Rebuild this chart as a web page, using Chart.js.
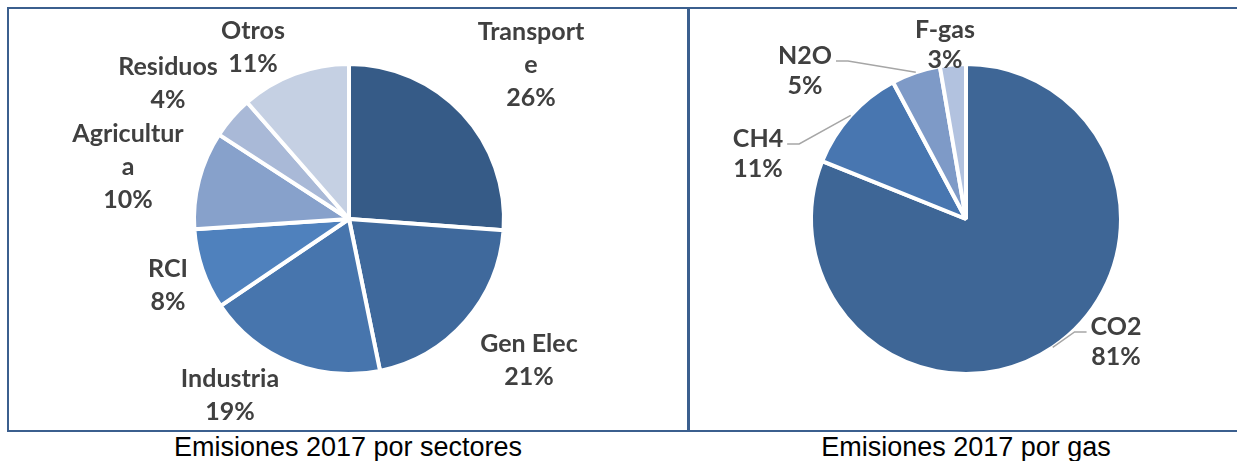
<!DOCTYPE html>
<html>
<head>
<meta charset="utf-8">
<script src="https://cdn.jsdelivr.net/npm/chart.js@4/dist/chart.umd.min.js"></script>
<style>
  html, body { margin: 0; padding: 0; background: #fff; }
  body { width: 1237px; height: 461px; position: relative; overflow: hidden; }
  .box { position: absolute; border: 2px solid #3B5F8E; box-sizing: border-box; }
  .wrap { position: absolute; }
  .caption { position: absolute; top: 432px; font-family: "Liberation Sans", Arial, sans-serif;
             font-size: 27px; color: #000; text-align: center; line-height: 30px; }
</style>
</head>
<body>
<div class="box" style="left:7px;top:7px;width:682px;height:425px;"></div>
<div class="box" style="left:688px;top:7px;width:580px;height:425px;"></div>
<div class="wrap" style="left:8px;top:8px;width:680px;height:422px;"><canvas id="sectores"></canvas></div>
<div class="wrap" style="left:689px;top:8px;width:548px;height:422px;"><canvas id="gases"></canvas></div>
<div class="caption" style="left:98px;width:500px;">Emisiones 2017 por sectores</div>
<div class="caption" style="left:716px;width:500px;">Emisiones 2017 por gas</div>
<script>
// emissions share by sector (%)
var sectorNames = ["Transporte", "Gen Elec", "Industria", "RCI", "Agricultura", "Residuos", "Otros"];
var sectorValues = [26.1, 20.6, 18.7, 8.4, 10.2, 4.4, 11.4];
// Excel wrapped two of the names
var sectorLines = [["Transport", "e"], ["Gen Elec"], ["Industria"], ["RCI"], ["Agricultur", "a"], ["Residuos"], ["Otros"]];

// emissions share by gas (%)
var gasNames = ["CO2", "CH4", "N2O", "F-gas"];
var gasValues = [81.1, 11.1, 5.1, 2.7];

var sectorColors = ["#365B87", "#3F699C", "#4775AD", "#4F81BD", "#87A1CB", "#A9B9D7", "#C5D0E3"];
var gasColors = ["#3E6696", "#4876B0", "#7E9AC7", "#B2C2DF"];

var labelFont = "bold 25px Lato";

var sliceLabels = {
  id: 'sliceLabels',
  afterDraw: function(chart, args, opts) {
    var ctx = chart.ctx;
    var meta = chart.getDatasetMeta(0);
    var values = chart.data.datasets[0].data;
    var total = values.reduce(function(a, b) { return a + b; }, 0);
    ctx.save();
    ctx.font = labelFont;
    ctx.fillStyle = "#404040";
    ctx.textAlign = "center";
    ctx.textBaseline = "middle";
    meta.data.forEach(function(arc, i) {
      var pct = Math.round(values[i] / total * 100) + "%";
      var lines = opts.lines[i].concat([pct]);
      var off = opts.offsets[i];
      var lx = arc.x + off[0], ly = arc.y + off[1];
      var lh = opts.lineHeight;
      var y0 = ly - (lines.length - 1) * lh / 2;
      lines.forEach(function(t, k) { ctx.fillText(t, lx, y0 + k * lh); });
      if (opts.leaders && opts.leaders[i]) {
        var a = (arc.startAngle + arc.endAngle) / 2;
        var px = arc.x + arc.outerRadius * Math.cos(a);
        var py = arc.y + arc.outerRadius * Math.sin(a);
        var w = ctx.measureText(lines[0]).width;
        var side = off[0] < 0 ? 1 : -1;
        var ex = lx + side * (w / 2 + 4);
        var bx = ex + side * 12;
        var by = y0 + 5;
        ctx.strokeStyle = "#A6A6A6";
        ctx.lineWidth = 1.5;
        ctx.beginPath();
        ctx.moveTo(px, py);
        ctx.lineTo(bx, by);
        ctx.lineTo(ex, by);
        ctx.stroke();
      }
    });
    ctx.restore();
  }
};

new Chart(document.getElementById("sectores"), {
  type: 'pie',
  data: {
    labels: sectorNames,
    datasets: [{ data: sectorValues, backgroundColor: sectorColors, borderColor: "#fff", borderWidth: 4 }]
  },
  options: {
    responsive: true,
    maintainAspectRatio: false,
    animation: false,
    layout: { padding: { left: 2, right: 0, top: 54, bottom: 54 } },
    plugins: {
      legend: { display: false },
      tooltip: { enabled: false },
      sliceLabels: {
        lineHeight: 33,
        lines: sectorLines,
        offsets: [[182, -154], [180, 141], [-119, 176], [-181, 66], [-221, -52], [-181, -136], [-96, -172]]
      }
    }
  },
  plugins: [sliceLabels]
});

new Chart(document.getElementById("gases"), {
  type: 'pie',
  data: {
    labels: gasNames,
    datasets: [{ data: gasValues, backgroundColor: gasColors, borderColor: "#fff", borderWidth: 4 }]
  },
  options: {
    responsive: true,
    maintainAspectRatio: false,
    animation: false,
    layout: { padding: { left: 6, right: 0, top: 54, bottom: 54 } },
    plugins: {
      legend: { display: false },
      tooltip: { enabled: false },
      sliceLabels: {
        lineHeight: 30,
        lines: [["CO2"], ["CH4"], ["N2O"], ["F-gas"]],
        offsets: [[150, 123], [-208, -65], [-161, -148], [-21, -174]],
        leaders: [true, true, true, false]
      }
    }
  },
  plugins: [sliceLabels]
});
</script>
</body>
</html>
